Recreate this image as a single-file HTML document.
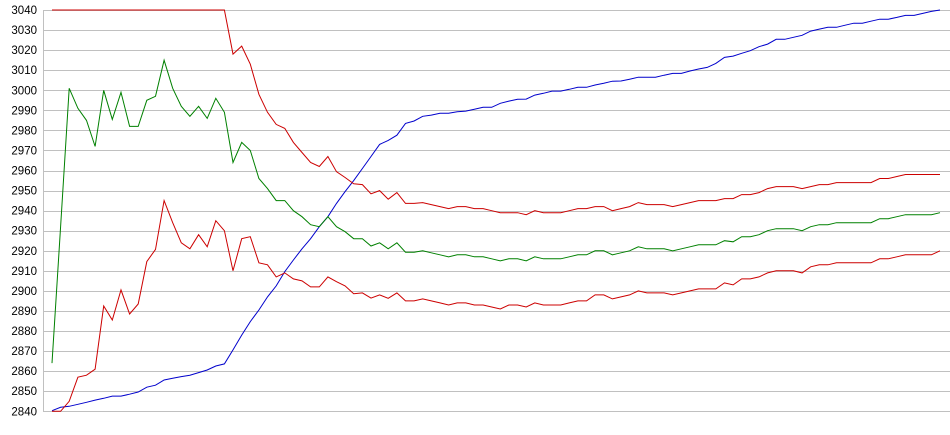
<!DOCTYPE html>
<html><head><meta charset="utf-8"><style>
html,body{margin:0;padding:0;background:#fff;}
svg{display:block;}
text{font-family:"Liberation Sans",Arial,sans-serif;font-size:11.5px;fill:#000;}
</style></head><body>
<svg id="chart" width="950" height="435" xmlns="http://www.w3.org/2000/svg">
<g id="grid"></g>
<g id="ylabels"></g>
<g id="series"></g>
</svg>
<script>
const yTicks = [2840,2850,2860,2870,2880,2890,2900,2910,2920,2930,2940,2950,2960,2970,2980,2990,3000,3010,3020,3030,3040];
const meanValues = [2864,2932,3001,2991,2985,2972,3000,2985.5,2999,2982,2982,2995,2997,3015,3001,2992,2987,2992,2986,2996,2989,2964,2974,2970,2956,2951,2945,2945,2940,2937,2933,2932,
2937,2932,2929.5,2926,2926,2922.4,2924,2921,2924,2919.3,2919.3,2920,2919,2918,2917,2918,2918,2917,2917,2916,2915,2916,2916,
2915,2917,2916,2916,2916,2917,2918,2918,2920,2920,2918,2919,2920,2922,2921,2921,2921,2920,2921,2922,2923,2923,2923,2925,2924.5,
2927,2927,2928,2930,2931,2931,2931,2930,2932,2933,2933,2934,2934,2934,2934,2934,2936,2936,2937,2938,2938,2938,2938,2939];
const spreadValues = [200,120,156,134,127,111,107.5,100,98.5,93.5,88.5,80.4,76.3,70,67,68,66,64,64,61,59,54,48,43,42,38,38,36,34,32,31,30,
30,27.4,27,27.4,27,26,26,24.7,25,24.3,24.3,24,24,24,24,24,24,24,24,24,24,23,23,
23,23,23,23,23,23,23,23,22,22,22,22,22,22,22,22,22,22,22,22,22,22,22,21,21.5,
21,21,21,21,21,21,21,21,20,20,20,20,20,20,20,20,20,20,20,20,20,20,20,19];
const cumulativeValues = [2840.3,2842,2842.5,2843.5,2844.5,2845.6,2846.5,2847.6,2847.6,2848.5,2849.6,2852,2853,2855.6,2856.5,2857.3,2858,2859.3,2860.6,2862.6,2863.6,2870.6,2878,2884.7,2890.5,2897,2902.5,2909.6,2915.4,2921,2926,2932,
2937,2943.6,2949.5,2955,2961,2967,2973,2975,2977.6,2983.5,2984.7,2987,2987.6,2988.5,2988.5,2989.3,2989.6,2990.5,2991.5,2991.5,2993.5,2994.6,2995.5,
2995.6,2997.6,2998.5,2999.6,2999.6,3000.5,3001.5,3001.5,3002.6,3003.5,3004.5,3004.6,3005.5,3006.5,3006.5,3006.5,3007.5,3008.4,3008.4,3009.6,3010.6,3011.4,3013.4,3016.4,3017,
3018.4,3019.7,3021.7,3023,3025.4,3025.4,3026.4,3027.4,3029.5,3030.5,3031.4,3031.4,3032.4,3033.4,3033.4,3034.4,3035.4,3035.4,3036.3,3037.3,3037.3,3038.3,3039.3,3040.3];

const NS = "http://www.w3.org/2000/svg";
const yMin = 2840, yMax = 3040;
const plotTop = 10, plotBottom = 411.3, plotLeft = 52, plotRight = 940;
function yScale(v){ return plotTop + (yMax - v) / (yMax - yMin) * (plotBottom - plotTop); }
function xScale(i){ return plotLeft + i * (plotRight - plotLeft) / (meanValues.length - 1); }
function clamp(v){ return Math.max(yMin, Math.min(yMax, v)); }

const grid = document.getElementById('grid');
const ylabels = document.getElementById('ylabels');
const axis = document.createElementNS(NS,'line');
axis.setAttribute('x1',43.5);axis.setAttribute('x2',43.5);
axis.setAttribute('y1',yScale(yMax));axis.setAttribute('y2',yScale(yMin));
axis.setAttribute('stroke','#c0c0c0');


grid.appendChild(axis);
yTicks.forEach(t=>{
  const y = Math.round(yScale(t))+0.5;
  const l = document.createElementNS(NS,'line');
  l.setAttribute('x1',43);l.setAttribute('x2',950);l.setAttribute('y1',y);l.setAttribute('y2',y);
  l.setAttribute('stroke','#c0c0c0');
  
  
  grid.appendChild(l);
  const tx = document.createElementNS(NS,'text');
  tx.setAttribute('x',37);tx.setAttribute('y',yScale(t)+4);tx.setAttribute('text-anchor','end');
  tx.textContent = t;
  
  
  ylabels.appendChild(tx);
});

const series = document.getElementById('series');
function drawLine(vals, color, name){
  const pts = vals.map((v,i)=>xScale(i).toFixed(1)+','+yScale(clamp(v)).toFixed(1)).join(' ');
  const p = document.createElementNS(NS,'polyline');
  p.setAttribute('points',pts);p.setAttribute('fill','none');p.setAttribute('stroke',color);
  p.setAttribute('stroke-width','1');
  
  
  series.appendChild(p);
}
const upper = meanValues.map((m,i)=>m+spreadValues[i]);
const lower = meanValues.map((m,i)=>m-spreadValues[i]);
drawLine(cumulativeValues,'#0000cc','cumulative-line');
drawLine(lower,'#cc0000','lower-band-line');
drawLine(meanValues,'#008000','mean-line');
drawLine(upper,'#cc0000','upper-band-line');
</script>
</body></html>
